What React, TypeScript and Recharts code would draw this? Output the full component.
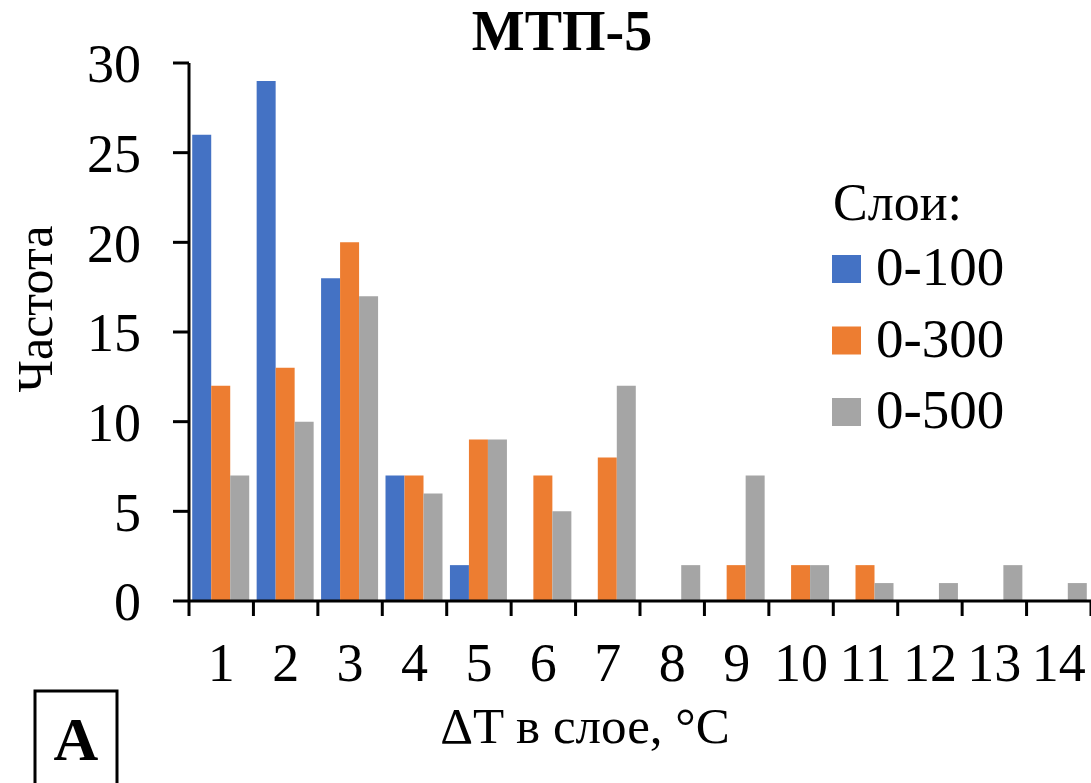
import React from 'react';
import { BarChart, Bar, XAxis, YAxis, Legend, Label } from 'recharts';

const categories = ['1', '2', '3', '4', '5', '6', '7', '8', '9', '10', '11', '12', '13', '14'];
const layer0_100 = [26, 29, 18, 7, 2, 0, 0, 0, 0, 0, 0, 0, 0, 0];
const layer0_300 = [12, 13, 20, 7, 9, 7, 8, 0, 2, 2, 2, 0, 0, 0];
const layer0_500 = [7, 10, 17, 6, 9, 5, 12, 2, 7, 2, 1, 1, 2, 1];
const seriesNames = ['0-100', '0-300', '0-500'];
const yTicks = [0, 5, 10, 15, 20, 25, 30];

const chartTitle = 'МТП-5';
const xTitle = 'ΔT в слое, °C';
const yTitle = 'Частота';
const legendTitle = 'Слои:';
const panelLabel = 'A';

const COLORS = ['#4472C4', '#ED7D31', '#A5A5A5'];
const FONT = '"Liberation Serif", "Times New Roman", serif';
const X_TICK_SIZE = 15;
const X_TICK_MARGIN = 27;

const data = categories.map((c, i) => ({
  cat: c,
  s100: layer0_100[i],
  s300: layer0_300[i],
  s500: layer0_500[i],
}));

const XTick = (props: any) => {
  const { x, y, payload, index, visibleTicksCount } = props;
  const half = payload && typeof payload.offset === 'number' && payload.offset > 0 ? payload.offset : 32.2;
  const axisY = y - X_TICK_SIZE - X_TICK_MARGIN;
  const isLast = index === visibleTicksCount - 1;
  return (
    <g>
      <line x1={x - half} x2={x - half} y1={axisY} y2={axisY + X_TICK_SIZE} stroke="#000" strokeWidth={3} />
      {isLast && (
        <line x1={x + half} x2={x + half} y1={axisY} y2={axisY + X_TICK_SIZE} stroke="#000" strokeWidth={3} />
      )}
      <text x={x} y={y} dy="0.71em" textAnchor="middle" fontSize={54} fontFamily={FONT} fill="#000">
        {payload.value}
      </text>
    </g>
  );
};

const LegendContent = (props: any) => {
  const payload = props.payload || [];
  return (
    <svg width={271} height={270} style={{ display: 'block' }}>
      <text x={13} y={50} fontSize={52} fontFamily={FONT} fill="#000">
        {legendTitle}
      </text>
      {payload.map((item: any, i: number) => (
        <g key={i}>
          <rect x={12} y={85 + i * 71.5} width={29} height={28} fill={item.color} />
          <text x={56} y={115 + i * 71.5} fontSize={55} fontFamily={FONT} fill="#000">
            {item.value}
          </text>
        </g>
      ))}
    </svg>
  );
};

const XLabel = (props: any) => {
  const vb = props.viewBox || { x: 189, y: 601, width: 902 };
  return (
    <text x={585} y={vb.y + 142} textAnchor="middle" fontSize={51} fontFamily={FONT} fill="#000">
      {xTitle}
    </text>
  );
};

const YLabel = (props: any) => {
  const cx = 52;
  const cy = 309;
  return (
    <text
      x={cx}
      y={cy}
      transform={`rotate(-90, ${cx}, ${cy})`}
      textAnchor="middle"
      fontSize={50}
      fontFamily={FONT}
      fill="#000"
    >
      {yTitle}
    </text>
  );
};

export default function App() {
  return (
    <div style={{ position: 'absolute', left: 0, top: 0, width: 1091, height: 783, background: '#fff', overflow: 'hidden' }}>
      <BarChart
        width={1091}
        height={783}
        data={data}
        margin={{ top: 63, right: 0, bottom: 0, left: 0 }}
        barCategoryGap="5%"
        barGap={0}
      >
        <XAxis
          dataKey="cat"
          height={182}
          interval={0}
          tickSize={X_TICK_SIZE}
          tickMargin={X_TICK_MARGIN}
          tickLine={false}
          axisLine={{ stroke: '#000', strokeWidth: 3 }}
          tick={<XTick />}
        >
          <Label content={<XLabel />} />
        </XAxis>
        <YAxis
          width={189}
          domain={[0, 30]}
          ticks={yTicks}
          interval={0}
          tickSize={16}
          tickMargin={32}
          tickLine={{ stroke: '#000', strokeWidth: 3 }}
          axisLine={{ stroke: '#000', strokeWidth: 3 }}
          tick={{ fontSize: 54, fill: '#000', fontFamily: FONT }}
        >
          <Label content={<YLabel />} />
        </YAxis>
        <Legend
          layout="vertical"
          align="center"
          verticalAlign="middle"
          wrapperStyle={{ left: 820, top: 170, width: 271, height: 270 }}
          content={<LegendContent />}
        />
        <Bar dataKey="s100" name={seriesNames[0]} fill={COLORS[0]} isAnimationActive={false} />
        <Bar dataKey="s300" name={seriesNames[1]} fill={COLORS[1]} isAnimationActive={false} />
        <Bar dataKey="s500" name={seriesNames[2]} fill={COLORS[2]} isAnimationActive={false} />
      </BarChart>
      <svg
        width={1091}
        height={783}
        style={{ position: 'absolute', left: 0, top: 0, pointerEvents: 'none' }}
      >
        <text x={562} y={50} textAnchor="middle" fontSize={56} fontWeight="bold" fontFamily={FONT} fill="#000">
          {chartTitle}
        </text>
        <rect x={35} y={691} width={82} height={100} fill="none" stroke="#000" strokeWidth={3} />
        <text x={76} y={760} textAnchor="middle" fontSize={62} fontWeight="bold" fontFamily={FONT} fill="#000">
          {panelLabel}
        </text>
      </svg>
    </div>
  );
}
